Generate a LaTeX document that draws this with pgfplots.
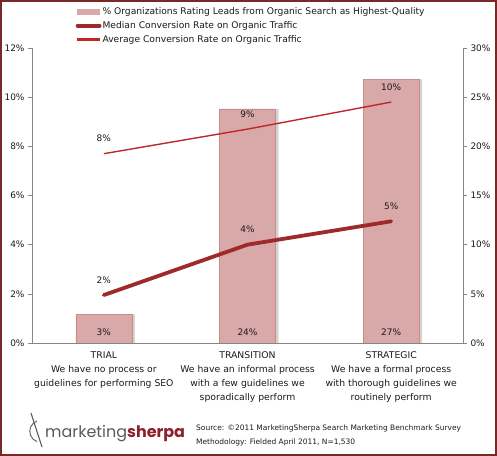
\documentclass[border=0pt]{standalone}
\usepackage{pgfplots}
\pgfplotsset{compat=1.18}
\usepackage{pgfplotstable}
\usepackage{fontspec}
\setmainfont{DejaVu Sans}
\newfontfamily\logofont{Poppins}

\definecolor{barfill}{HTML}{D9A9A9}
\definecolor{baredge}{HTML}{C98C8C}
\definecolor{barshadow}{HTML}{D4D4D4}
\definecolor{medred}{HTML}{9E2A2B}
\definecolor{avgred}{HTML}{C0272D}
\definecolor{framecol}{HTML}{7A2929}
\definecolor{axisgray}{HTML}{868686}
\definecolor{txt}{HTML}{1A1A1A}
\definecolor{logogray}{HTML}{5A5A5A}
\definecolor{logored}{HTML}{8E1F2C}

% x = stage index, leads = % orgs (right axis), median / average = conversion rate (left axis)
\pgfplotstableread{
x leads median average
0 2.9  1.95 7.7
1 23.8 4.0  8.7
2 26.8 4.95 9.8
}\sherpadata

\pgfplotsset{
  common/.style={
    at={(32bp,113bp)}, anchor=south west,
    scale only axis, width=431bp, height=295bp,
    xmin=-0.5, xmax=2.5, ymin=0,
    axis line style={axisgray},
    tick style={axisgray, line width=0.6bp},
    major tick length=4bp,
    tick align=outside,
    ticklabel style={font=\fontsize{9}{10}\selectfont, text=txt},
    /pgf/number format/assume math mode=true,
  },
  medleg/.style={legend image code/.code={\draw[medred, line width=3.8bp, line cap=round] (0bp,0bp) -- (22bp,0bp);}},
  avgleg/.style={legend image code/.code={\fill[avgred] (0bp,-1bp) rectangle (22bp,1bp);}},
  barleg/.style={legend image code/.code={\fill[barfill] (0bp,-2.5bp) rectangle (22bp,2.5bp);}},
}

\begin{document}
\begin{tikzpicture}[x=1bp,y=1bp]
\useasboundingbox (0,0) rectangle (497,456);
\draw[framecol, line width=2bp] (1,1) rectangle (496,455);

% bars on the right axis
\begin{axis}[common,
  ymax=30, ytick={0,5,...,30},
  axis y line*=right, axis x line*=bottom,
  xtick=\empty,
  yticklabel={\pgfmathprintnumber{\tick}\%},
]
\addplot[ybar, bar width=56bp, bar shift=3bp, fill=barshadow, draw=none]
  table[x=x, y=leads] {\sherpadata};
\addplot[ybar, bar width=56bp, bar shift=0bp, fill=barfill, draw=baredge]
  table[x=x, y=leads] {\sherpadata};
\addplot[draw=none,
  nodes near coords={\pgfmathprintnumber[fixed,precision=0]{\pgfplotspointmeta}\%},
  point meta=explicit,
  every node near coord/.append style={anchor=center, yshift=11bp,
    font=\fontsize{9}{10}\selectfont, text=txt}]
  table[x=x, y expr=0, meta=leads] {\sherpadata};
\end{axis}

% lines on the left axis
\begin{axis}[common,
  ymax=12, ytick={0,2,...,12},
  axis y line*=left, axis x line*=bottom,
  xtick={0,1,2},
  major x tick style={draw=none},
  xticklabels={{TRIAL\\We have no process or\\guidelines for performing SEO},
               {TRANSITION\\We have an informal process\\with a few guidelines we\\sporadically perform},
               {STRATEGIC\\We have a formal process\\with thorough guidelines we\\routinely perform}},
  xticklabel style={align=center, font=\fontsize{9.3}{14}\selectfont, anchor=north, yshift=-1bp},
  yticklabel={\pgfmathprintnumber{\tick}\%},
  nodes near coords={\pgfmathprintnumber[fixed,precision=0]{\pgfplotspointmeta}\%},
  every node near coord/.append style={anchor=center, yshift=15bp,
    font=\fontsize{9}{10}\selectfont, text=txt},
  legend cell align=left,
  legend style={at={(0.101,1)}, anchor=north west, yshift=42bp,
    draw=none, fill=none, inner sep=0pt, row sep=3bp,
    font=\fontsize{9.2}{10}\selectfont,
    nodes={inner sep=1bp, text height=7bp, text depth=2bp, text=txt}},
]
\addlegendimage{barleg}
\addlegendentry{\% Organizations Rating Leads from Organic Search as Highest-Quality}
\addplot[draw=medred, line width=3.8bp, line cap=round, line join=round, medleg]
  table[x=x, y=median, meta=median] {\sherpadata};
\addlegendentry{Median Conversion Rate on Organic Traffic}
\addplot[draw=avgred, line width=1.4bp, avgleg]
  table[x=x, y=average, meta=average] {\sherpadata};
\addlegendentry{Average Conversion Rate on Organic Traffic}
\end{axis}

% footer: logo and source
\draw[logogray, line width=0.9bp] (37,35) arc[start angle=110, end angle=250, radius=11];
\draw[logogray, line width=1.1bp] (31,43) -- (42,9);
\node[anchor=base west, inner sep=0pt, font=\logofont\fontsize{16}{16}\selectfont]
  at (45,18) {\textcolor{logogray}{marketing}\textcolor{logored}{\bfseries sherpa}};
\node[anchor=west, inner sep=0pt, text=txt, font=\fontsize{7.5}{9}\selectfont]
  at (196,28) {Source: ©2011 MarketingSherpa Search Marketing Benchmark Survey};
\node[anchor=west, inner sep=0pt, text=txt, font=\fontsize{7.5}{9}\selectfont]
  at (196,14) {Methodology: Fielded April 2011, N=1,530};
\end{tikzpicture}
\end{document}
